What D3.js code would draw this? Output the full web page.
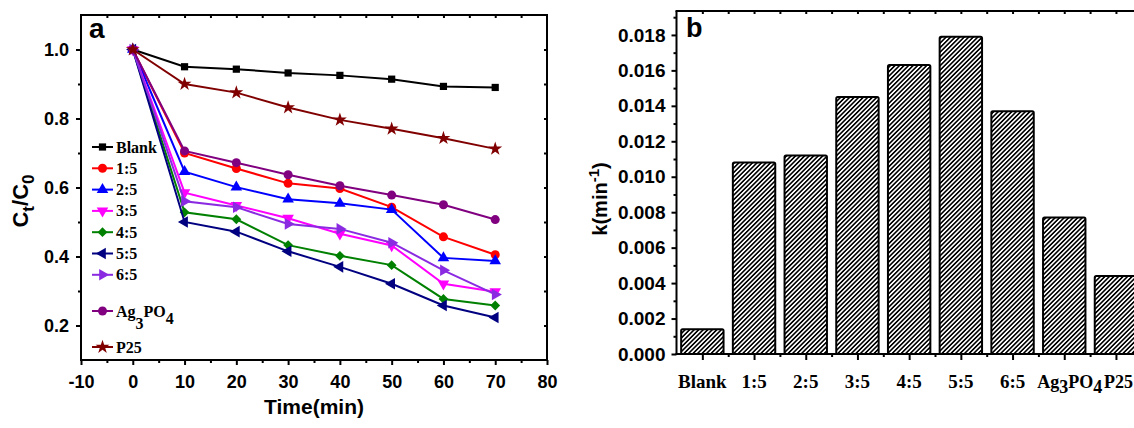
<!DOCTYPE html>
<html>
<head>
<meta charset="utf-8">
<script src="https://cdn.jsdelivr.net/npm/d3@7"></script>
<style>
  body { margin: 0; background: #fff; }
  svg { display: block; }
  .tick text { font-family: Arial, "Liberation Sans", sans-serif; font-weight: bold; }
</style>
</head>
<body>
<div id="chart"></div>
<script>
'use strict';
// panel a: Ct/C0 vs time
const times = [0, 10, 20, 30, 40, 50, 60, 70];
const seriesNames = ["Blank", "1:5", "2:5", "3:5", "4:5", "5:5", "6:5", "Ag3PO4", "P25"];
const blankVals = [1.0, 0.950, 0.943, 0.932, 0.925, 0.914, 0.893, 0.890];
const r15Vals = [1.0, 0.700, 0.655, 0.612, 0.597, 0.543, 0.457, 0.405];
const r25Vals = [1.0, 0.646, 0.601, 0.566, 0.554, 0.536, 0.396, 0.387];
const r35Vals = [1.0, 0.585, 0.548, 0.511, 0.466, 0.432, 0.321, 0.298];
const r45Vals = [1.0, 0.528, 0.508, 0.433, 0.402, 0.375, 0.277, 0.258];
const r55Vals = [1.0, 0.500, 0.472, 0.415, 0.370, 0.321, 0.258, 0.223];
const r65Vals = [1.0, 0.560, 0.543, 0.494, 0.480, 0.440, 0.360, 0.290];
const agVals = [1.0, 0.706, 0.672, 0.637, 0.605, 0.578, 0.550, 0.507];
const p25Vals = [1.0, 0.900, 0.875, 0.832, 0.796, 0.770, 0.743, 0.712];
const xTicksA = [-10, 0, 10, 20, 30, 40, 50, 60, 70, 80];
const yTicksA = [0.2, 0.4, 0.6, 0.8, 1.0];

// panel b: rate constants
const categories = ["Blank", "1:5", "2:5", "3:5", "4:5", "5:5", "6:5", "Ag3PO4", "P25"];
const kVals = [0.0014, 0.0108, 0.0112, 0.0145, 0.0163, 0.0179, 0.0137, 0.0077, 0.0044];
const yTicksB = [0, 0.002, 0.004, 0.006, 0.008, 0.010, 0.012, 0.014, 0.016, 0.018];

const W = 1134, H = 428;
const sans = 'Arial, "Liberation Sans", sans-serif';
const serif = '"Times New Roman", "Liberation Serif", serif';

const svg = d3.select("#chart").append("svg")
  .attr("width", W).attr("height", H);
svg.append("rect").attr("width", W).attr("height", H).attr("fill", "#fff");

const defs = svg.append("defs");
const pat = defs.append("pattern")
  .attr("id", "hatch")
  .attr("patternUnits", "userSpaceOnUse")
  .attr("width", 3.2).attr("height", 3.2)
  .attr("patternTransform", "rotate(45)");
pat.append("rect").attr("width", 3.2).attr("height", 3.2).attr("fill", "#fff");
pat.append("rect")
  .attr("x", 0).attr("y", 0).attr("width", 1.6).attr("height", 3.2)
  .attr("fill", "#000");

// helper for text with subscripts: parts = [[text, dy]]
function richText(sel, parts) {
  parts.forEach(function (p) {
    sel.append("tspan").attr("dy", p[1]).text(p[0]);
  });
}

// ---------------- panel a ----------------
const xA = d3.scaleLinear().domain([-10, 80]).range([81, 547]);
const yA = d3.scaleLinear().domain([0.1, 1.1]).range([360, 15]);

const gA = svg.append("g");

function styleAxis(g) {
  g.select(".domain").remove();
  g.selectAll(".tick line").attr("stroke", "#000").attr("stroke-width", 2);
}

// bottom axis
gA.append("g").attr("transform", "translate(0,360)")
  .call(d3.axisBottom(xA).tickValues(xTicksA).tickSize(5).tickPadding(10).tickFormat(function (d) { return String(d); }))
  .call(styleAxis)
  .selectAll("text").style("font-size", "18px").attr("fill", "#000");
gA.append("g").attr("transform", "translate(0,360)")
  .call(d3.axisBottom(xA).tickValues(d3.range(-5, 80, 10)).tickSize(3).tickFormat(""))
  .call(styleAxis);
// top axis (inward ticks)
gA.append("g").attr("transform", "translate(0,15)")
  .call(d3.axisBottom(xA).tickValues(d3.range(-5, 80, 5)).tickSize(3).tickFormat(""))
  .call(styleAxis);
// left axis
gA.append("g").attr("transform", "translate(81,0)")
  .call(d3.axisLeft(yA).tickValues(yTicksA).tickSize(5).tickPadding(7).tickFormat(d3.format(".1f")))
  .call(styleAxis)
  .selectAll("text").style("font-size", "18px").attr("fill", "#000");
gA.append("g").attr("transform", "translate(81,0)")
  .call(d3.axisLeft(yA).tickValues([0.3, 0.5, 0.7, 0.9]).tickSize(3).tickFormat(""))
  .call(styleAxis);
// right axis (inward ticks)
gA.append("g").attr("transform", "translate(547,0)")
  .call(d3.axisLeft(yA).tickValues(d3.range(0.2, 1.05, 0.1)).tickSize(3).tickFormat(""))
  .call(styleAxis);

gA.append("rect")
  .attr("x", 81).attr("y", 15).attr("width", 466).attr("height", 345)
  .attr("fill", "none").attr("stroke", "#000").attr("stroke-width", 2);

const seriesVals = [blankVals, r15Vals, r25Vals, r35Vals, r45Vals, r55Vals, r65Vals, agVals, p25Vals];
const seriesColors = ["#000000", "#ff0000", "#0000ff", "#ff00ff", "#008000", "#000080", "#8a2be2", "#800080", "#800000"];
const seriesShapes = [
  { t: d3.symbolSquare, s: 52, r: 0 },
  { t: d3.symbolCircle, s: 64, r: 0 },
  { t: d3.symbolTriangle, s: 58, r: 0 },
  { t: d3.symbolTriangle, s: 58, r: 180 },
  { t: d3.symbolSquare, s: 48, r: 45 },
  { t: d3.symbolTriangle, s: 58, r: -90 },
  { t: d3.symbolTriangle, s: 58, r: 90 },
  { t: d3.symbolCircle, s: 64, r: 0 },
  { t: d3.symbolStar, s: 60, r: 0 }
];

const line = d3.line()
  .x(function (d) { return xA(d[0]); })
  .y(function (d) { return yA(d[1]); });

seriesVals.forEach(function (vals, i) {
  const pts = times.map(function (t, j) { return [t, vals[j]]; });
  const g = gA.append("g");
  g.append("path").datum(pts)
    .attr("d", line)
    .attr("fill", "none")
    .attr("stroke", seriesColors[i])
    .attr("stroke-width", 2);
  g.selectAll("path.m").data(pts).enter().append("path")
    .attr("class", "m")
    .attr("d", d3.symbol().type(seriesShapes[i].t).size(seriesShapes[i].s))
    .attr("transform", function (d) {
      return "translate(" + xA(d[0]) + "," + yA(d[1]) + ") rotate(" + seriesShapes[i].r + ")";
    })
    .attr("fill", seriesColors[i]);
});

// legend
const legend = gA.append("g");
seriesNames.forEach(function (name, i) {
  const y = i < 7 ? 147 + i * 21.3 : 311 + (i - 7) * 36;
  legend.append("line")
    .attr("x1", 92).attr("x2", 113).attr("y1", y).attr("y2", y)
    .attr("stroke", seriesColors[i]).attr("stroke-width", 2);
  legend.append("path")
    .attr("d", d3.symbol().type(seriesShapes[i].t).size(seriesShapes[i].s))
    .attr("transform", "translate(102.5," + y + ") rotate(" + seriesShapes[i].r + ")")
    .attr("fill", seriesColors[i]);
  const txt = legend.append("text")
    .attr("x", 116).attr("y", y + 5.5)
    .attr("font-family", serif).attr("font-weight", "bold")
    .attr("font-size", 16).attr("fill", "#000");
  if (name === "Ag3PO4") {
    richText(txt, [["Ag", 0], ["3", 12], ["PO", -12], ["4", 7]]);
  } else {
    txt.text(name);
  }
});

gA.append("text")
  .attr("x", 89).attr("y", 38)
  .attr("font-family", sans).attr("font-weight", "bold").attr("font-size", 28)
  .text("a");

gA.append("text")
  .attr("x", 314).attr("y", 414)
  .attr("text-anchor", "middle")
  .attr("font-family", sans).attr("font-weight", "bold").attr("font-size", 21)
  .text("Time(min)");

const yTitleA = gA.append("text")
  .attr("transform", "translate(28,201) rotate(-90)")
  .attr("text-anchor", "middle")
  .attr("font-family", sans).attr("font-weight", "bold").attr("font-size", 22);
richText(yTitleA, [["C", 0], ["t", 6], ["/C", -6], ["0", 6]]);
yTitleA.selectAll("tspan").filter(function (d, i) { return i % 2 === 1; })
  .attr("font-size", 17);

// ---------------- panel b ----------------
const xB = d3.scaleBand().domain(categories).range([676.5, 1141.8])
  .paddingInner(0.18).paddingOuter(0.09);
const yB = d3.scaleLinear().domain([0, 0.01935]).range([354, 11]);
const gB = svg.append("g");

gB.selectAll("rect.bar").data(kVals).enter().append("rect")
  .attr("class", "bar")
  .attr("x", function (d, i) { return xB(categories[i]); })
  .attr("y", function (d) { return yB(d); })
  .attr("width", xB.bandwidth())
  .attr("height", function (d) { return yB(0) - yB(d); })
  .attr("rx", 1.5)
  .attr("fill", "url(#hatch)")
  .attr("stroke", "#000").attr("stroke-width", 2);

const step = xB.step();
const centers = categories.map(function (c) { return xB(c) + xB.bandwidth() / 2; });
const xTickScale = d3.scaleLinear().domain([0, 1]).range([0, 1]);
// bottom ticks at category centers (major) and between (minor)
gB.append("g").attr("transform", "translate(0,354)")
  .call(d3.axisBottom(xTickScale).tickValues(centers).tickSize(6).tickFormat(""))
  .call(styleAxis);
gB.append("g").attr("transform", "translate(0,354)")
  .call(d3.axisBottom(xTickScale).tickValues(centers.map(function (c) { return c + step / 2; })).tickSize(3).tickFormat(""))
  .call(styleAxis);
// top ticks (inward)
gB.append("g").attr("transform", "translate(0,11)")
  .call(d3.axisBottom(xTickScale).tickValues(centers.concat(centers.map(function (c) { return c + step / 2; }))).tickSize(3).tickFormat(""))
  .call(styleAxis);

// left axis
gB.append("g").attr("transform", "translate(676.5,0)")
  .call(d3.axisLeft(yB).tickValues(yTicksB).tickSize(5).tickPadding(6).tickFormat(d3.format(".3f")))
  .call(styleAxis)
  .selectAll("text").style("font-size", "19px").attr("fill", "#000");
gB.append("g").attr("transform", "translate(676.5,0)")
  .call(d3.axisLeft(yB).tickValues(d3.range(0.001, 0.0191, 0.002)).tickSize(3).tickFormat(""))
  .call(styleAxis);

// frame
gB.append("line").attr("x1", 676.5).attr("x2", 676.5).attr("y1", 11).attr("y2", 355)
  .attr("stroke", "#000").attr("stroke-width", 2);
gB.append("line").attr("x1", 675.5).attr("x2", W).attr("y1", 354).attr("y2", 354)
  .attr("stroke", "#000").attr("stroke-width", 2);
gB.append("line").attr("x1", 675.5).attr("x2", W).attr("y1", 11).attr("y2", 11)
  .attr("stroke", "#000").attr("stroke-width", 2);

// category labels
categories.forEach(function (c, i) {
  const t = gB.append("text")
    .attr("x", centers[i]).attr("y", 388)
    .attr("text-anchor", "middle")
    .attr("font-family", serif).attr("font-weight", "bold").attr("font-size", 19);
  if (c === "Ag3PO4") {
    t.attr("x", centers[i] - 27).attr("text-anchor", "start").attr("font-size", 18);
    richText(t, [["Ag", 0], ["3", 5], ["PO", -5], ["4", 5]]);
  } else if (c === "P25") {
    t.attr("x", W - 1).attr("text-anchor", "end").attr("font-size", 18).text(c);
  } else {
    t.text(c);
  }
});

gB.append("text")
  .attr("x", 686).attr("y", 37)
  .attr("font-family", sans).attr("font-weight", "bold").attr("font-size", 27)
  .text("b");

const yTitleB = gB.append("text")
  .attr("transform", "translate(607,199) rotate(-90)")
  .attr("text-anchor", "middle")
  .attr("font-family", sans).attr("font-weight", "bold").attr("font-size", 20);
richText(yTitleB, [["k(min", 0], ["-1", -8], [")", 8]]);
yTitleB.selectAll("tspan").filter(function (d, i) { return i === 1; }).attr("font-size", 15);
</script>
</body>
</html>
